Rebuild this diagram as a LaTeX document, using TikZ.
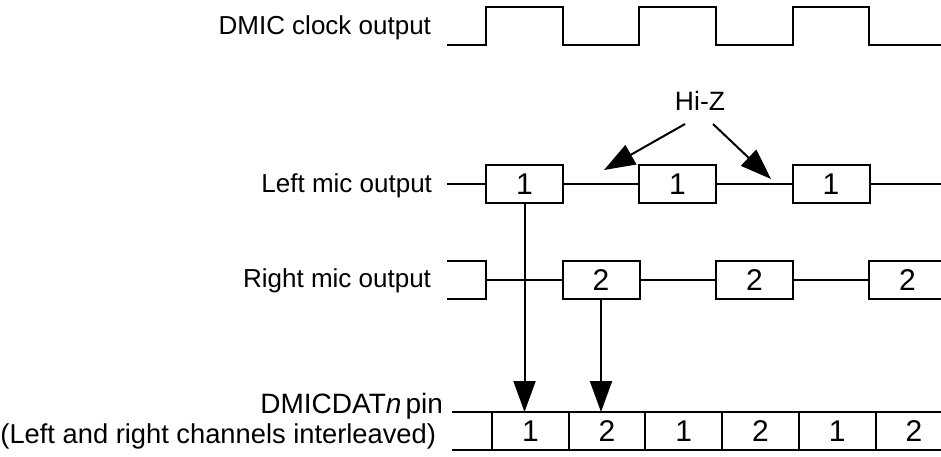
\documentclass[tikz,border=0pt]{standalone}
\usepackage{fontspec}
\setmainfont{Liberation Sans}
\usetikzlibrary{arrows.meta}
\begin{document}
\begin{tikzpicture}[x=1pt,y=-1pt, line width=2pt,
  lbl/.style={font=\fontsize{26}{30}\selectfont, anchor=base east, inner sep=0pt},
  dbox/.style={draw, line width=2pt, outer sep=0pt, minimum width=77pt, minimum height=38pt, inner sep=0pt, font=\fontsize{30}{34}\selectfont},
  cell/.style={draw, line width=2pt, outer sep=0pt, minimum width=76.7pt, minimum height=38pt, inner sep=0pt, font=\fontsize{30}{34}\selectfont},
  arr/.style={-{Triangle[length=31pt,width=22pt]}, line width=2pt}]
\useasboundingbox (0,0) rectangle (941,457);
\clip (0,0) rectangle (941,457);

% clock
\draw (447,45) -- (486,45) -- (486,7) -- (563,7) -- (563,45) -- (639,45) -- (639,7) -- (716,7) -- (716,45) -- (793,45) -- (793,7) -- (869,7) -- (869,45) -- (941,45);

% labels
\node[lbl] (clk) at (432,35) {DMIC clock output};
\node[lbl] (lm) at (433,192) {Left mic output};
\node[lbl] (rm) at (432,287) {Right mic output};
\node[lbl, font=\fontsize{28}{32}\selectfont] (dp) at (444,413) {DMICDAT\textit{n}\kern0.15em pin};
\node[lbl, font=\fontsize{27.3}{31}\selectfont] (dpi) at (437,443) {(Left and right channels interleaved)};
\node[font=\fontsize{26.5}{30}\selectfont, anchor=base, inner sep=0pt] (hiz) at (700,111) {Hi-Z};

% left mic
\coordinate (lstart) at (447,184);
\coordinate (lend) at (941,184);
\node[dbox] (l1) at (524.5,184) {1};
\node[dbox] (l2) at (677.5,184) {1};
\node[dbox] (l3) at (831,184) {1};
\draw (lstart) -- (l1.west);
\draw (l1.east) -- (l2.west);
\draw (l2.east) -- (l3.west);
\draw (l3.east) -- (lend);

% right mic
\coordinate (rbt) at (447,261);
\coordinate (rbb) at (447,299);
\coordinate (rbc) at (486,280);
\node[dbox] (r1) at (601,280) {2};
\node[dbox] (r2) at (754.5,280) {2};
\node[dbox] (r3) at (907.5,280) {2};
\draw (rbt) -- (486,261) -- (486,299) -- (rbb);
\draw (rbc) -- (r1.west);
\draw (r1.east) -- (r2.west);
\draw (r2.east) -- (r3.west);

% DMICDAT bus
\coordinate (dst) at (452,412);
\coordinate (dsb) at (452,450);
\node[cell] (d1) at (530.35,431) {1};
\node[cell] (d2) at (607.05,431) {2};
\node[cell] (d3) at (683.75,431) {1};
\node[cell] (d4) at (760.45,431) {2};
\node[cell] (d5) at (837.15,431) {1};
\node[cell] (d6) at (913.85,431) {2};
\draw (dst) -- (d1.north west);
\draw (dsb) -- (d1.south west);

% arrows
\draw[arr] (l1.south) -- (l1.south |- d1.north);
\draw[arr] (r1.south) -- (r1.south |- d2.north);
\coordinate (hz1) at (604,170);
\coordinate (hz2) at (771,179);
\draw[arr] ([xshift=-15pt,yshift=-12pt]hiz.south) -- (hz1);
\draw[arr] ([xshift=13pt,yshift=-12pt]hiz.south) -- (hz2);
\end{tikzpicture}
\end{document}
